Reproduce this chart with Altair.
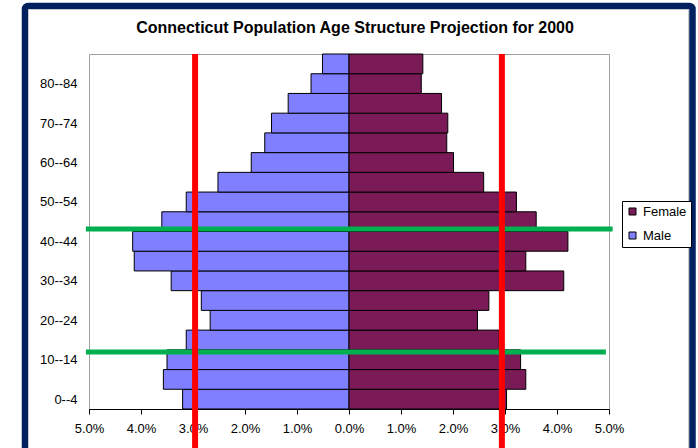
import altair as alt
import pandas as pd

# Age groups, bottom to top
ages = ["0--4", "5--9", "10--14", "15--19", "20--24", "25--29", "30--34", "35--39",
        "40--44", "45--49", "50--54", "55--59", "60--64", "65--69", "70--74",
        "75--79", "80--84", "85+"]

# Share of total population (%) by age group
male = [3.20, 3.57, 3.50, 3.13, 2.67, 2.84, 3.42, 4.13, 4.16, 3.60,
        3.13, 2.52, 1.88, 1.62, 1.49, 1.17, 0.73, 0.51]
female = [3.03, 3.40, 3.30, 2.89, 2.47, 2.69, 4.13, 3.40, 4.21, 3.60,
          3.22, 2.59, 2.01, 1.88, 1.90, 1.78, 1.39, 1.42]

# Reference markers: vertical lines at about +/-3% and two horizontal cut lines
red_x = [-2.96, 2.94]
green_y = [9.13, 2.89]          # in age-group units counted from the bottom
green_x_start = [-5.06, -5.06]
green_x_end = [5.07, 4.94]

x_ticks = [-5, -4, -3, -2, -1, 0, 1, 2, 3, 4, 5]

FONT = "Liberation Sans"
MALE_COLOR = "#7f7fff"
FEMALE_COLOR = "#7a1a56"

rows = []
for i, a in enumerate(ages):
    rows.append({"age": a, "lo": i, "hi": i + 1, "sex": "Male", "value": -male[i]})
    rows.append({"age": a, "lo": i, "hi": i + 1, "sex": "Female", "value": female[i]})
bars_df = pd.DataFrame(rows)

label_array = "[" + ",".join("'%s'" % a for a in ages) + "]"

x_scale = alt.Scale(domain=[-5, 5], nice=False, zero=False)
y_scale = alt.Scale(domain=[0, 18], nice=False, zero=False)

bars = alt.Chart(bars_df).mark_bar(stroke="black", strokeWidth=1).encode(
    x=alt.X("value:Q", scale=x_scale,
            axis=alt.Axis(values=x_ticks, title=None, grid=False,
                          labelExpr="format(abs(datum.value)/100, '.1%')",
                          domainColor="black", tickColor="black", tickSize=5,
                          labelPadding=8, labelFontSize=13, labelFont=FONT,
                          labelColor="#000000", labelFlush=False)),
    x2=alt.datum(0),
    y=alt.Y("lo:Q", scale=y_scale,
            axis=alt.Axis(values=[i + 0.5 for i in range(0, 18, 2)], title=None,
                          grid=False, ticks=False, domain=False,
                          labelExpr=label_array + "[floor(datum.value)]",
                          labelPadding=12, labelFontSize=13, labelFont=FONT,
                          labelColor="#000000")),
    y2="hi:Q",
    color=alt.Color("sex:N",
                    scale=alt.Scale(domain=["Female", "Male"],
                                    range=[FEMALE_COLOR, MALE_COLOR]),
                    legend=alt.Legend(title=None, orient="none", legendX=533, legendY=147,
                                      symbolType="square", symbolSize=49,
                                      symbolStrokeColor="black", symbolStrokeWidth=1,
                                      labelFontSize=13, labelFont=FONT, labelColor="#000000",
                                      labelOffset=4, rowPadding=10, padding=4,
                                      strokeColor="black", fillColor="white")),
)

green_df = pd.DataFrame({"y": green_y, "x0": green_x_start, "x1": green_x_end})
green = alt.Chart(green_df).mark_rule(color="#00b050", strokeWidth=5).encode(
    x=alt.X("x0:Q", scale=x_scale),
    x2="x1:Q",
    y=alt.Y("y:Q", scale=y_scale),
)

red_df = pd.DataFrame({"x": red_x, "top": [18, 18], "bottom": [-2.1, -2.1]})
red = alt.Chart(red_df).mark_rule(color="#ff0000", strokeWidth=6).encode(
    x=alt.X("x:Q", scale=x_scale),
    y=alt.Y("top:Q", scale=y_scale),
    y2="bottom:Q",
)

# Outer chart border (navy) with a thin light inner line
one = pd.DataFrame({"k": [0]})
frame = alt.Chart(one).mark_rect(fill=None, stroke="#002060", strokeWidth=6.5,
                                 cornerRadius=3).encode(
    x=alt.value(-64), x2=alt.value(603.5), y=alt.value(-48), y2=alt.value(430),
)
inner = alt.Chart(one).mark_rect(fill=None, stroke="#c8c8c8", strokeWidth=1).encode(
    x=alt.value(-60.5), x2=alt.value(599.5), y=alt.value(-44.5), y2=alt.value(430),
)

# The title sits inside the border, so it is pulled down past the border's top edge
chart = alt.layer(bars, green, red, frame, inner).properties(
    width=520,
    height=355,
    padding={"left": 89, "top": 54, "right": 89, "bottom": 39},
    autosize=alt.AutoSizeParams(type="none"),
    background="white",
    title=alt.TitleParams("Connecticut Population Age Structure Projection for 2000",
                          font=FONT, fontSize=16, fontWeight="bold", color="#000000",
                          anchor="middle", frame="group", baseline="alphabetic",
                          offset=-46, dx=6),
).configure_view(stroke="#a0a0a0", strokeWidth=1)

chart.save("out.html", embed_options={"renderer": "svg", "actions": False})
